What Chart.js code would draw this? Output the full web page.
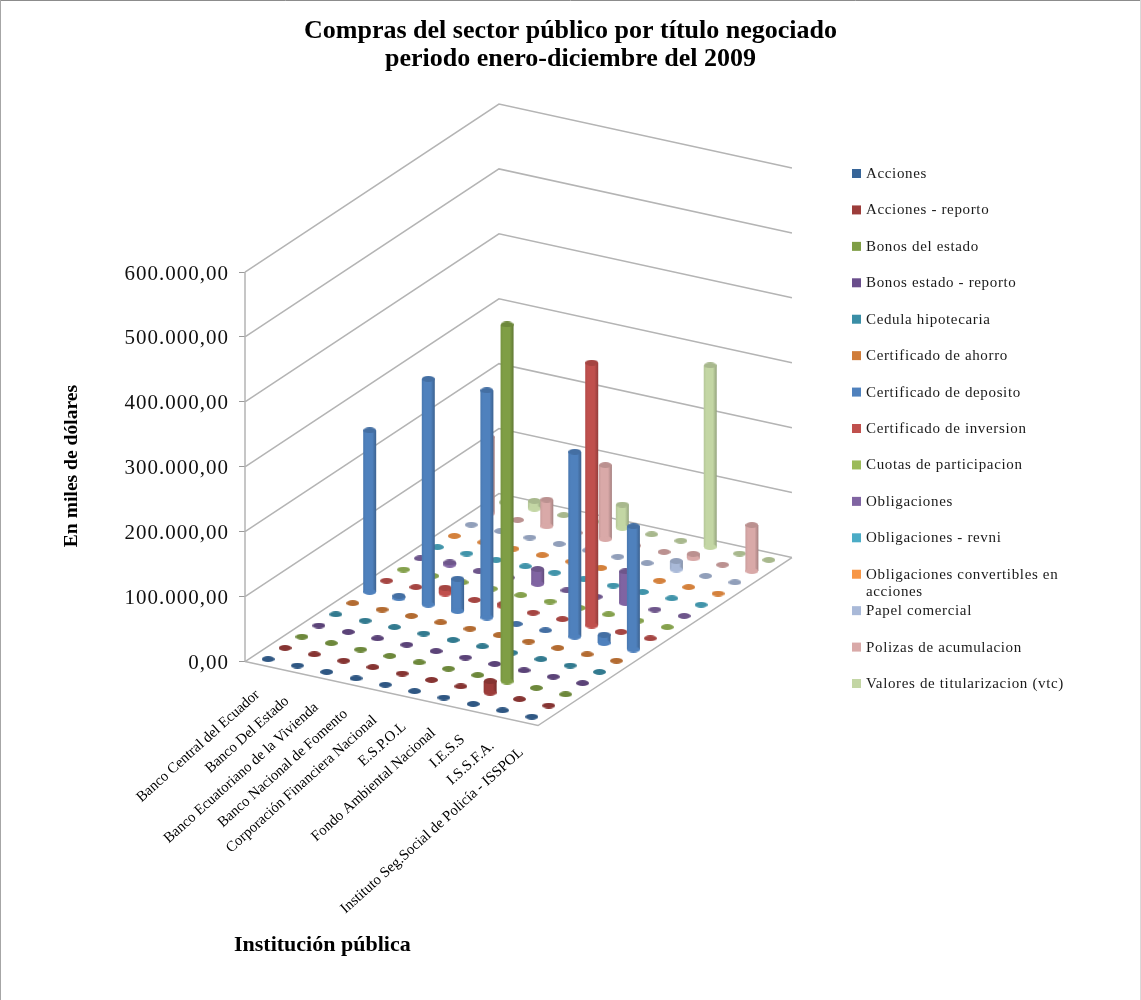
<!DOCTYPE html>
<html lang="es">
<head>
<meta charset="utf-8">
<title>Compras del sector público por título negociado</title>
<style>
  html, body { margin: 0; padding: 0; background: #fff; }
  canvas { display: block; }
</style>
<script src="https://cdn.jsdelivr.net/npm/chart.js@4/dist/chart.umd.min.js"></script>
</head>
<body>
<canvas id="grafico" width="1141" height="1000"></canvas>
<script>
// Instituciones (eje de categorías)
const instituciones = [
  "Banco Central del Ecuador", "Banco Del Estado", "Banco Ecuatoriano de la Vivienda",
  "Banco Nacional de Fomento", "Corporación Financiera Nacional", "E.S.P.O.L",
  "Fondo Ambiental Nacional", "I.E.S.S", "I.S.S.F.A.", "Instituto Seg.Social de Policía - ISSPOL"
];

// Compras por título, en miles de dólares, una fila por título
const acciones            = [0, 0, 0, 0, 0, 0, 0, 0, 0, 0];
const accionesReporto     = [0, 0, 0, 0, 0, 0, 0, 18000, 0, 0];
const bonosEstado         = [0, 0, 0, 0, 0, 0, 0, 550000, 0, 0];
const bonosReporto        = [0, 0, 0, 0, 0, 0, 0, 0, 0, 0];
const cedulaHipotecaria   = [0, 0, 0, 0, 0, 0, 0, 0, 0, 0];
const certAhorro          = [0, 0, 0, 0, 0, 0, 0, 0, 0, 0];
const certDeposito        = [249000, 4000, 348000, 50000, 350000, 0, 0, 285000, 13000, 190000];
const certInversion       = [0, 0, 9000, 0, 4000, 0, 0, 405000, 0, 0];
const cuotasParticipacion = [0, 0, 0, 0, 0, 0, 0, 0, 0, 0];
const obligaciones        = [0, 3500, 0, 0, 23000, 0, 0, 49000, 0, 0];
const obligacionesRevni   = [0, 0, 0, 0, 0, 0, 0, 0, 0, 0];
const obligacionesConv    = [0, 0, 0, 0, 0, 0, 0, 0, 0, 0];
const papelComercial      = [0, 0, 0, 0, 0, 0, 0, 13000, 0, 0];
const polizasAcumulacion  = [118000, 0, 41000, 0, 114000, 0, 0, 7000, 0, 71000];
const valoresTitularizacion = [0, 12000, 0, 0, 36000, 0, 0, 280000, 0, 0];

const titulos = [
  "Acciones", "Acciones - reporto", "Bonos del estado", "Bonos estado - reporto",
  "Cedula hipotecaria", "Certificado de ahorro", "Certificado de deposito",
  "Certificado de inversion", "Cuotas de participacion", "Obligaciones",
  "Obligaciones - revni", "Obligaciones convertibles en acciones", "Papel comercial",
  "Polizas de acumulacion", "Valores de titularizacion (vtc)"
];
const comprasPorTitulo = [
  acciones, accionesReporto, bonosEstado, bonosReporto, cedulaHipotecaria, certAhorro,
  certDeposito, certInversion, cuotasParticipacion, obligaciones, obligacionesRevni,
  obligacionesConv, papelComercial, polizasAcumulacion, valoresTitularizacion
];
const coloresTitulo = [
  "#376598", "#9c3c3a", "#7f9e45", "#6a4e8c", "#3a8ea6", "#d07c39", "#4f81bd", "#c0504d",
  "#9bbb59", "#8064a2", "#4bacc6", "#f79646", "#a9b9d8", "#d9a9a8", "#c3d6a4"
];
const marcasValor = [0, 100000, 200000, 300000, 400000, 500000, 600000];

// Proyección oblicua del piso: cada categoría y cada título desplazan el punto
// en x (unidades de la escala x) y en y (píxeles convertidos a unidades de valor).
const unidadesPorPixel = 600000 / 389.5;
const origenX = 245;
const pasoCategoria = { x: 29.3, y: 6.4 };
const pasoTitulo = { x: 16.93, y: -11.2 };

function proyectar(u, v, valor) {
  return {
    x: origenX + u * pasoCategoria.x + v * pasoTitulo.x,
    y: valor - (u * pasoCategoria.y + v * pasoTitulo.y) * unidadesPorPixel
  };
}

// Cilindros de un título: base + tapa, separados por huecos
function cilindros(valores, v) {
  const puntos = [];
  valores.forEach((valor, i) => {
    const base = proyectar(i + 0.5, v + 0.5, 0);
    const tapa = proyectar(i + 0.5, v + 0.5, valor);
    if (valor > 0) puntos.push({ x: base.x, y: base.y, tapa: false });
    puntos.push({ x: tapa.x, y: tapa.y, tapa: true });
    puntos.push({ x: tapa.x, y: null });
  });
  return puntos;
}

// Paredes y piso: líneas de cada marca de valor y aristas del piso
function armazon() {
  const puntos = [];
  const trazo = lista => {
    lista.forEach(p => puntos.push(p));
    puntos.push({ x: lista[0].x, y: null });
  };
  marcasValor.forEach(valor => {
    trazo([proyectar(0, 0, valor), proyectar(0, 15, valor), proyectar(10, 15, valor)]);
  });
  trazo([proyectar(0, 0, 0), proyectar(0, 0, marcasValor[marcasValor.length - 1])]);
  trazo([proyectar(0, 0, 0), proyectar(10, 0, 0), proyectar(10, 15, 0)]);
  return puntos;
}

function tono(hex, f) {
  const n = parseInt(hex.slice(1), 16);
  const c = s => Math.max(0, Math.min(255, Math.round(((n >> s) & 255) * f)));
  return `rgb(${c(16)},${c(8)},${c(0)})`;
}

// Elipse usada como tapa o base de cada cilindro
function elipse(color, ancho, alto) {
  const lienzo = document.createElement("canvas");
  lienzo.width = ancho;
  lienzo.height = alto;
  const c = lienzo.getContext("2d");
  c.fillStyle = color;
  c.beginPath();
  c.ellipse(ancho / 2, alto / 2, ancho / 2, alto / 2, 0, 0, Math.PI * 2);
  c.fill();
  return lienzo;
}

const anchoCilindro = 13;
const fuente = "'Liberation Serif', 'Times New Roman', serif";

const conjuntos = titulos.map((titulo, v) => {
  const color = coloresTitulo[v];
  const imgTapa = elipse(tono(color, 0.86), anchoCilindro, 6);
  const imgBase = elipse(color, anchoCilindro, 6);
  return {
    label: titulo,
    data: cilindros(comprasPorTitulo[v], v),
    showLine: true,
    spanGaps: false,
    clip: false,
    borderColor: color,
    borderWidth: anchoCilindro,
    borderCapStyle: "butt",
    pointRadius: 3,
    pointHoverRadius: 3,
    pointStyle: c => (c.raw && c.raw.tapa ? imgTapa : imgBase),
    segment: {
      // Sombreado horizontal del cuerpo del cilindro
      borderColor: c => {
        const x = c.p0.x;
        const g = c.chart.ctx.createLinearGradient(x - anchoCilindro / 2, 0, x + anchoCilindro / 2, 0);
        g.addColorStop(0, tono(color, 0.93));
        g.addColorStop(0.2, color);
        g.addColorStop(0.7, color);
        g.addColorStop(1, tono(color, 0.76));
        return g;
      }
    }
  };
});

conjuntos.push({
  label: "Cuadrícula",
  data: armazon(),
  showLine: true,
  spanGaps: false,
  clip: false,
  borderColor: "#b4b4b4",
  borderWidth: 1.5,
  pointRadius: 0
});

// Marco, leyenda, nombres de institución y título del eje de categorías
const textosPropios = {
  id: "textosPropios",
  afterLayout(chart) {
    const y = chart.scales.y;
    if (y._conEspaciado) return;
    y._conEspaciado = true;
    const original = y.drawLabels;
    y.drawLabels = function (area) {
      const c = chart.ctx;
      c.save();
      c.letterSpacing = "1px";
      c.translate(0, 2);
      original.call(this, area);
      c.restore();
    };
  },
  beforeDraw(chart) {
    const c = chart.ctx;
    c.save();
    c.fillStyle = "#fff";
    c.fillRect(0, 0, chart.width, chart.height);
    c.lineWidth = 1;
    c.strokeStyle = "#8c8c8c";
    c.beginPath(); c.moveTo(0, 0.5); c.lineTo(chart.width, 0.5); c.stroke();
    c.strokeStyle = "#a6a6a6";
    c.beginPath(); c.moveTo(0.5, 0); c.lineTo(0.5, chart.height); c.stroke();
    c.strokeStyle = "#d9d9d9";
    c.beginPath(); c.moveTo(chart.width - 0.5, 0); c.lineTo(chart.width - 0.5, chart.height); c.stroke();
    c.restore();
  },
  afterDraw(chart) {
    const c = chart.ctx;
    const sx = chart.scales.x;
    const sy = chart.scales.y;
    c.save();
    c.fillStyle = "#000";

    // Nombres de institución a lo largo de la arista frontal
    c.font = `14.8px ${fuente}`;
    c.textAlign = "right";
    c.textBaseline = "middle";
    instituciones.forEach((nombre, i) => {
      const p = proyectar(i + 0.5, 0, 0);
      c.save();
      c.translate(sx.getPixelForValue(p.x) - 2, sy.getPixelForValue(p.y) + 28);
      c.rotate(-42 * Math.PI / 180);
      c.fillText(nombre, 0, 0);
      c.restore();
    });

    c.textAlign = "left";
    c.font = `bold 22px ${fuente}`;
    c.fillText("Institución pública", 234, 945);

    // Leyenda
    const filaInicial = 173;
    const pasoFila = 36.43;
    titulos.forEach((titulo, k) => {
      const yFila = filaInicial + k * pasoFila;
      c.fillStyle = coloresTitulo[k];
      c.fillRect(852, yFila - 4, 9, 9);
      c.fillStyle = "#1a1a1a";
      c.font = `15px ${fuente}`;
      c.letterSpacing = "0.65px";
      if (titulo === "Obligaciones convertibles en acciones") {
        c.fillText("Obligaciones convertibles en", 866, yFila + 1);
        c.fillText("acciones", 866, yFila + 18);
      } else {
        c.fillText(titulo, 866, yFila + 1);
      }
      c.letterSpacing = "0px";
    });
    c.restore();
  }
};

new Chart(document.getElementById("grafico"), {
  type: "scatter",
  data: { datasets: conjuntos },
  plugins: [textosPropios],
  options: {
    responsive: false,
    animation: false,
    layout: { autoPadding: false, padding: { left: 0, right: 0, top: 0, bottom: 143 } },
    events: [],
    plugins: {
      legend: { display: false },
      tooltip: { enabled: false },
      title: {
        display: true,
        text: ["Compras del sector público por título negociado", "periodo enero-diciembre del 2009"],
        color: "#000",
        font: { family: fuente, size: 26, weight: "bold", lineHeight: 1.077 },
        padding: { top: 17, bottom: 2 }
      }
    },
    scales: {
      x: { type: "linear", display: false, min: origenX, max: 1141 },
      y: {
        type: "linear",
        min: -(857 - 661.5) * unidadesPorPixel,
        max: (661.5 - 75) * unidadesPorPixel,
        afterBuildTicks(scale) { scale.ticks = marcasValor.map(value => ({ value })); },
        afterFit(scale) { scale.width = origenX; },
        border: { display: false },
        grid: { drawOnChartArea: false, drawTicks: true, tickLength: 6, color: "#9a9a9a" },
        ticks: {
          autoSkip: false,
          maxRotation: 0,
          padding: 10,
          color: "#111",
          font: { family: fuente, size: 21 },
          callback: v => v.toLocaleString("de-DE", { minimumFractionDigits: 2, maximumFractionDigits: 2 })
        },
        title: {
          display: true,
          text: "En miles de dólares",
          color: "#000",
          font: { family: fuente, size: 19.6, weight: "bold" },
          padding: { top: 60, bottom: 0 }
        }
      }
    }
  }
});
</script>
</body>
</html>
